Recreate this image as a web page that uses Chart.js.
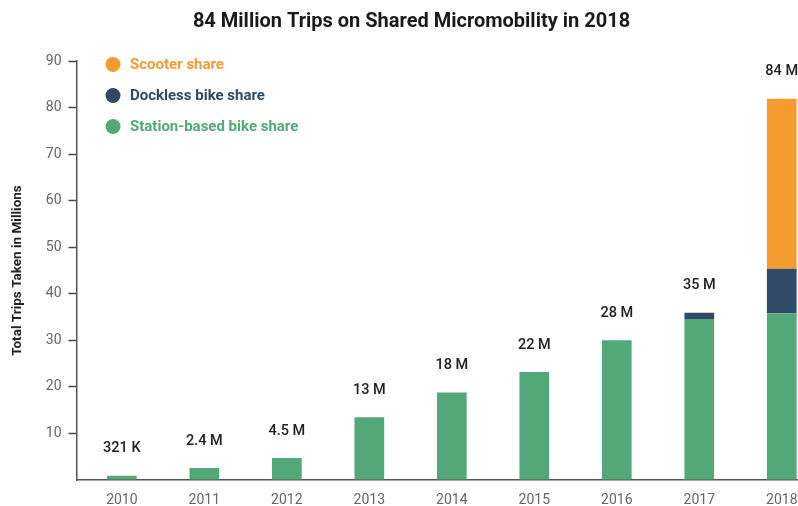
<!DOCTYPE html>
<html>
<head>
<meta charset="utf-8">
<script src="https://cdn.jsdelivr.net/npm/chart.js@4.4.1/dist/chart.umd.min.js"></script>
<style>
  html, body { margin: 0; padding: 0; overflow: hidden; background: #fff; }
  #wrap { width: 798px; height: 506px; overflow: hidden; }
</style>
</head>
<body>
<div id="wrap"><canvas id="chart" width="830" height="506"></canvas></div>
<script>
// Data (millions of trips)
const years = [2010, 2011, 2012, 2013, 2014, 2015, 2016, 2017, 2018];
const stationBased = [0.9, 2.6, 4.7, 13.5, 18.8, 23.2, 30.0, 34.6, 35.8];
const dockless = [0, 0, 0, 0, 0, 0, 0, 1.3, 9.6];
const scooter = [0, 0, 0, 0, 0, 0, 0, 0, 36.5];
const totalLabels = ['321 K', '2.4 M', '4.5 M', '13 M', '18 M', '22 M', '28 M', '35 M', '84 M'];

const GREEN = '#52a878';
const NAVY = '#2e4a66';
const ORANGE = '#f59a2f';

Chart.defaults.font.family = "Roboto, 'Liberation Sans', sans-serif";

// Totals written above each stacked bar
const totalLabelPlugin = {
    id: 'totalLabels',
    afterDatasetsDraw(chart) {
        const ctx = chart.ctx;
        const meta = chart.getDatasetMeta(chart.data.datasets.length - 1);
        ctx.save();
        ctx.font = "500 14.5px Roboto, 'Liberation Sans', sans-serif";
        ctx.fillStyle = '#222';
        ctx.textAlign = 'center';
        ctx.textBaseline = 'middle';
        meta.data.forEach((bar, i) => {
            ctx.fillText(totalLabels[i], bar.x, bar.y - 27);
        });
        ctx.restore();
    }
};

// Legend drawn inside the plot area, top-left
const insideLegendPlugin = {
    id: 'insideLegend',
    afterDraw(chart) {
        const { ctx, chartArea } = chart;
        const items = chart.data.datasets.slice().reverse();
        ctx.save();
        ctx.font = "bold 15px Roboto, 'Liberation Sans', sans-serif";
        ctx.textBaseline = 'middle';
        ctx.textAlign = 'left';
        items.forEach((ds, i) => {
            const cx = chartArea.left + 36.5;
            const cy = chartArea.top + 3.5 + i * 31;
            ctx.fillStyle = ds.backgroundColor;
            ctx.beginPath();
            ctx.arc(cx, cy, 7.5, 0, Math.PI * 2);
            ctx.fill();
            ctx.fillText(ds.label, cx + 17, cy + 0.5);
        });
        ctx.restore();
    }
};

new Chart(document.getElementById('chart').getContext('2d'), {
    type: 'bar',
    data: {
        labels: years,
        datasets: [
            { label: 'Station-based bike share', data: stationBased, backgroundColor: GREEN },
            { label: 'Dockless bike share', data: dockless, backgroundColor: NAVY },
            { label: 'Scooter share', data: scooter, backgroundColor: ORANGE }
        ]
    },
    options: {
        responsive: false,
        animation: false,
        devicePixelRatio: 1,
        categoryPercentage: 1,
        barPercentage: 0.36,
        layout: { padding: { left: 0, right: 7, top: 0, bottom: 0 } },
        plugins: {
            legend: { display: false },
            tooltip: { enabled: false },
            title: {
                display: true,
                text: '84 Million Trips on Shared Micromobility in 2018',
                color: '#1a1a1a',
                font: { size: 20, weight: 'bold' },
                padding: { top: 10, bottom: 27 }
            }
        },
        scales: {
            x: {
                type: 'linear',
                stacked: true,
                offset: false,
                min: 2009.45,
                max: 2018.5,
                ticks: {
                    stepSize: 1,
                    includeBounds: false,
                    autoSkip: false,
                    maxRotation: 0,
                    color: '#666',
                    font: { size: 14 },
                    padding: 12,
                    callback: (v) => String(v)
                },
                grid: { display: true, drawOnChartArea: false, drawTicks: false },
                border: { color: '#555', width: 1.5 },
                afterFit: (s) => { s.height = 26; }
            },
            y: {
                stacked: true,
                min: 0,
                max: 90,
                ticks: {
                    stepSize: 10,
                    color: '#666',
                    font: { size: 14 },
                    padding: 7,
                    callback: (v) => (v === 0 ? '' : v)
                },
                grid: {
                    drawOnChartArea: false,
                    tickLength: 8,
                    tickWidth: 1.5,
                    tickColor: (c) => (c.tick && c.tick.value === 0 ? 'rgba(0,0,0,0)' : '#444')
                },
                border: { color: '#555', width: 1.5 },
                title: {
                    display: true,
                    text: 'Total Trips Taken in Millions',
                    color: '#222',
                    font: { size: 13.5, weight: 'bold' },
                    padding: { top: 10, bottom: 0 }
                },
                afterFit: (s) => { s.width = 76.5; }
            }
        }
    },
    plugins: [totalLabelPlugin, insideLegendPlugin]
});
</script>
</body>
</html>
